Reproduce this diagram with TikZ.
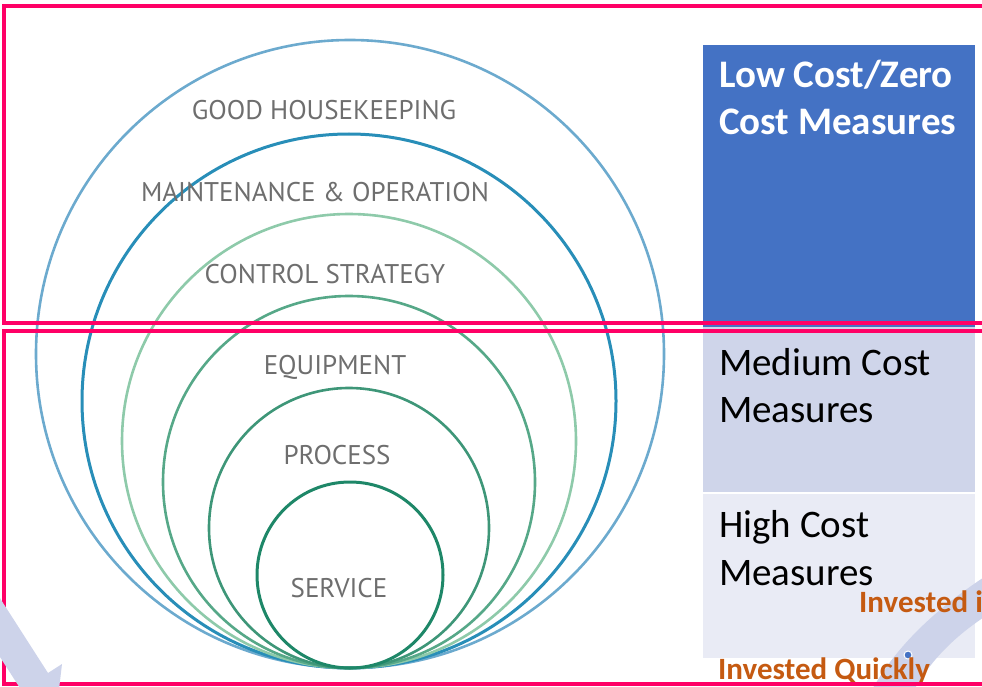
\documentclass[tikz,border=0pt]{standalone}
\usepackage{fontspec}
\setmainfont{Carlito}
\newfontfamily\ringfont{PT Sans}

\definecolor{ringA}{RGB}{108,170,206}
\definecolor{ringB}{RGB}{40,142,184}
\definecolor{ringC}{RGB}{142,202,170}
\definecolor{ringD}{RGB}{86,168,136}
\definecolor{ringE}{RGB}{62,150,120}
\definecolor{ringF}{RGB}{30,135,104}
\definecolor{ringtext}{RGB}{110,110,110}
\definecolor{lowblue}{RGB}{68,114,196}
\definecolor{medblue}{RGB}{207,213,234}
\definecolor{highblue}{RGB}{233,235,245}
\definecolor{bandblue}{RGB}{205,211,234}
\definecolor{framepink}{RGB}{255,0,102}
\definecolor{investorange}{RGB}{197,90,17}

\tikzset{
  ringlabel/.style={font=\ringfont\fontsize{27}{32}\selectfont, text=ringtext, inner sep=0, anchor=base},
  boxtext/.style={font=\fontsize{39}{46}\selectfont, inner sep=0, anchor=base west},
  investtext/.style={font=\bfseries\fontsize{31}{36}\selectfont, text=investorange, inner sep=0, anchor=base west},
  frame/.style={draw=framepink, line width=4.5}
}

\begin{document}
\begin{tikzpicture}[x=1pt,y=-1pt]
\useasboundingbox (0,0) rectangle (982,687);
\clip (0,0) rectangle (982,687);

% Cercles
\draw[ringA, line width=2.6] (350,354) circle[radius=314pt];
\draw[ringB, line width=3] (349,401) circle[radius=267pt];
\draw[ringC, line width=2.6] (349,441) circle[radius=227pt];
\draw[ringD, line width=2.6] (349,482) circle[radius=186pt];
\draw[ringE, line width=2.6] (349,528) circle[radius=140pt];
\draw[ringF, line width=3] (350,575) circle[radius=93pt];

\node[ringlabel] (good) at (324,120) {GOOD HOUSEKEEPING};
\node[ringlabel] (maint) at (315,201) {MAINTENANCE \& OPERATION};
\node[ringlabel] (control) at (325,283) {CONTROL STRATEGY};
\node[ringlabel] (equip) at (335,374) {EQUIPMENT};
\node[ringlabel] (process) at (337,464) {PROCESS};
\node[ringlabel] (service) at (339,597) {SERVICE};

% Niveaux de cout
\fill[lowblue] (703,45) rectangle (975,327);
\fill[medblue] (703,327) rectangle (975,492);
\fill[highblue] (703,494) rectangle (975,658);

\node[boxtext, font=\bfseries\fontsize{39}{46}\selectfont, text=white] (low1) at (719,88) {Low Cost/Zero};
\node[boxtext, font=\bfseries\fontsize{39}{46}\selectfont, text=white] (low2) at (719,135) {Cost Measures};
\node[boxtext] (med1) at (719,375) {Medium Cost};
\node[boxtext] (med2) at (719,422) {Measures};
\node[boxtext] (high1) at (719,537) {High Cost};
\node[boxtext] (high2) at (719,585) {Measures};

% Fleche courbe
\fill[bandblue] (995,570) .. controls (940,605) and (895,645) .. (868,697)
  -- (910,697) .. controls (930,660) and (955,635) .. (995,610) -- cycle;
\filldraw[fill=lowblue, draw=white, line width=1] (908,655) circle[radius=4pt];

\node[investtext] (invest1) at (859,612) {Invested i};
\node[investtext] (invest2) at (718,679) {Invested Quickly};

% Cadres
\draw[frame] (4,6) rectangle (1000,323);
\draw[frame] (4,331) rectangle (1000,684);

% Fleche droite
\fill[bandblue] (-32.6,547.4) -- (48,673) -- (62,664) -- (56,715) -- (7.3,699)
  -- (21.2,690) -- (-59.4,564.6) -- cycle;

\end{tikzpicture}
\end{document}
